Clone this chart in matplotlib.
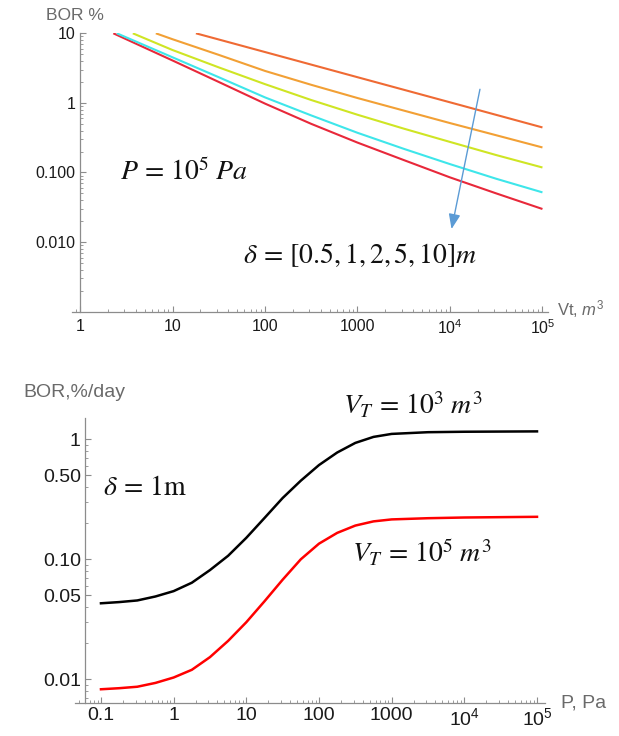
import matplotlib
matplotlib.use("Agg")
import matplotlib.pyplot as plt
from matplotlib.ticker import LogLocator, NullFormatter
import numpy as np

plt.rcParams['font.family'] = ['Liberation Sans', 'DejaVu Sans']
plt.rcParams['mathtext.fontset'] = 'custom'
plt.rcParams['mathtext.rm'] = 'Liberation Sans'
plt.rcParams['mathtext.it'] = 'Liberation Sans:italic'
plt.rcParams['mathtext.bf'] = 'Liberation Sans:bold'

# ---------------- Data: top panel (BOR % vs tank volume, P = 1e5 Pa) -------------
delta_labels = ['0.5', '1', '2', '5', '10']
top_colors = ['#e8283a', '#3ee6ea', '#cfe524', '#f2a035', '#ef6a34']

vt_red = [2.29, 10, 31.6, 100, 316, 1000, 3162, 10000, 31623, 100000]
bor_red = [10.0, 4.07, 2.0, 0.977, 0.50, 0.269, 0.151, 0.0851, 0.0501, 0.0299]

vt_cyan = [2.5, 10, 31.6, 100, 316, 1000, 3162, 10000, 31623, 100000]
bor_cyan = [10.0, 4.52, 2.34, 1.20, 0.661, 0.372, 0.219, 0.132, 0.0813, 0.0518]

vt_yellow = [3.72, 10, 31.6, 100, 316, 1000, 3162, 10000, 31623, 100000]
bor_yellow = [10.0, 5.75, 3.24, 1.86, 1.10, 0.676, 0.427, 0.275, 0.178, 0.118]

vt_orange = [6.6, 10, 31.6, 100, 316, 1000, 3162, 10000, 31623, 100000]
bor_orange = [10.0, 8.22, 4.9, 2.88, 1.82, 1.175, 0.776, 0.513, 0.343, 0.229]

vt_ored = [17.9, 31.6, 100, 316, 1000, 3162, 10000, 31623, 100000]
bor_ored = [10.0, 8.15, 5.38, 3.55, 2.34, 1.545, 1.02, 0.673, 0.444]

top_x = [vt_red, vt_cyan, vt_yellow, vt_orange, vt_ored]
top_y = [bor_red, bor_cyan, bor_yellow, bor_orange, bor_ored]

top_xticks = [1, 10, 100, 1000, 1e4, 1e5]
top_xticklabels = ['1', '10', '100', '1000', r'$\mathregular{10^4}$', r'$\mathregular{10^5}$']
top_yticks = [0.01, 0.1, 1, 10]
top_yticklabels = ['0.010', '0.100', '1', '10']

# ---------------- Data: bottom panel (BOR %/day vs pressure, delta = 1 m) ------------
pressure = [0.1, 0.178, 0.316, 0.562, 1, 1.78, 3.16, 5.62, 10, 17.8, 31.6, 56.2, 100, 178,
            316, 562, 1000, 3162, 10000, 100000]
bor_vt1e3 = [0.0430, 0.0440, 0.0454, 0.0490, 0.0543, 0.0638, 0.0813, 0.107, 0.151, 0.221,
             0.324, 0.452, 0.610, 0.776, 0.933, 1.047, 1.109, 1.146, 1.156, 1.164]
bor_vt1e5 = [0.00826, 0.00843, 0.00867, 0.00933, 0.01035, 0.0120, 0.0153, 0.0209, 0.0299,
             0.0447, 0.0676, 0.100, 0.135, 0.166, 0.191, 0.207, 0.215, 0.220, 0.223, 0.226]

bot_xticks = [0.1, 1, 10, 100, 1000, 1e4, 1e5]
bot_xticklabels = ['0.1', '1', '10', '100', '1000', r'$\mathregular{10^4}$', r'$\mathregular{10^5}$']
bot_yticks = [0.01, 0.05, 0.1, 0.5, 1]
bot_yticklabels = ['0.01', '0.05', '0.10', '0.50', '1']

W, H = 619, 736
fig = plt.figure(figsize=(W / 100, H / 100), dpi=100)

axis_grey = '#8c8c8c'
label_grey = '#6a6a6a'
tick_txt = '#1a1a1a'


def px_rect(l, r, t, b):
    return [l / W, 1 - b / H, (r - l) / W, (b - t) / H]


def style_axes(ax, fs, pad_x, pad_y):
    ax.set_xscale('log')
    ax.set_yscale('log')
    for s in ['top', 'right']:
        ax.spines[s].set_visible(False)
    for s in ['left', 'bottom']:
        ax.spines[s].set_color(axis_grey)
        ax.spines[s].set_linewidth(0.9)
    ax.tick_params(which='major', direction='in', length=4, width=0.8, color=axis_grey,
                   labelsize=fs, labelcolor=tick_txt)
    ax.tick_params(which='minor', direction='in', length=2, width=0.6, color=axis_grey)
    ax.tick_params(axis='x', which='both', pad=pad_x)
    ax.tick_params(axis='y', which='both', pad=pad_y)
    ax.xaxis.set_minor_locator(LogLocator(base=10, subs=np.arange(2, 10), numticks=20))
    ax.yaxis.set_minor_locator(LogLocator(base=10, subs=np.arange(2, 10), numticks=20))
    ax.xaxis.set_minor_formatter(NullFormatter())
    ax.yaxis.set_minor_formatter(NullFormatter())
    ax.patch.set_alpha(0)


# ---------------- Top panel ----------------
ax1 = fig.add_axes(px_rect(71.7, 548, 33.3, 311.7))
style_axes(ax1, 11.5, 5, 3)
for xs, ys, c in zip(top_x, top_y, top_colors):
    ax1.plot(xs, ys, color=c, lw=1.5, solid_capstyle='butt')
ax1.set_xlim(10 ** -0.09, 10 ** 5.06)
ax1.set_ylim(1e-3, 10)
ax1.spines['left'].set_position(('data', 1))
ax1.set_xticks(top_xticks, top_xticklabels)
ax1.set_yticks(top_yticks, top_yticklabels)
ax1.annotate('', xy=(1.04e4, 0.0154), xytext=(2.11e4, 1.57),
             arrowprops=dict(arrowstyle='-|>,head_length=0.9,head_width=0.35',
                             color='#5b9bd5', lw=1.0, shrinkA=0, shrinkB=0))

fig.text(46 / W, 1 - 16 / H, 'BOR %', color=label_grey, fontsize=12.5, ha='left', va='center')
fig.text(557 / W, 1 - 309 / H, r'Vt, $\mathit{m}^3$', color=label_grey, fontsize=12, ha='left', va='center')
fig.text(120 / W, 1 - 172 / H, r'$P\,=\,10^5\;Pa$', fontsize=20, ha='left', va='center',
         math_fontfamily='stix', color='#111111')
fig.text(243 / W, 1 - 255 / H, r'$\delta\,=\,[0.5,1,2,5,10]m$', fontsize=20, ha='left', va='center',
         math_fontfamily='stix', color='#111111')

# ---------------- Bottom panel ----------------
ax2 = fig.add_axes(px_rect(74.8, 545, 418, 702.7))
style_axes(ax2, 14, 3, 3)
ax2.plot(pressure, bor_vt1e3, color='black', lw=1.8)
ax2.plot(pressure, bor_vt1e5, color='#ff0000', lw=1.8)
ax2.set_xlim(10 ** -1.36, 10 ** 5.11)
ax2.set_ylim(10 ** -2.195, 10 ** 0.1775)
ax2.spines['left'].set_position(('data', 10 ** -1.22))
ax2.set_xticks(bot_xticks, bot_xticklabels)
ax2.set_yticks(bot_yticks, bot_yticklabels)

fig.text(23 / W, 1 - 393 / H, 'BOR,%/day', color=label_grey, fontsize=14, ha='left', va='center')
fig.text(561 / W, 1 - 703 / H, 'P, Pa', color=label_grey, fontsize=14, ha='left', va='center')
fig.text(103 / W, 1 - 488 / H, r'$\delta\,=\,1\mathrm{m}$', fontsize=20, ha='left', va='center',
         math_fontfamily='stix', color='#111111')
fig.text(343 / W, 1 - 405 / H, r'$V_T\,=\,10^3\;m^3$', fontsize=20, ha='left', va='center',
         math_fontfamily='stix', color='#111111')
fig.text(352 / W, 1 - 553 / H, r'$V_T\,=\,10^5\;m^3$', fontsize=20, ha='left', va='center',
         math_fontfamily='stix', color='#111111')

fig.savefig('out.png', dpi=100)
